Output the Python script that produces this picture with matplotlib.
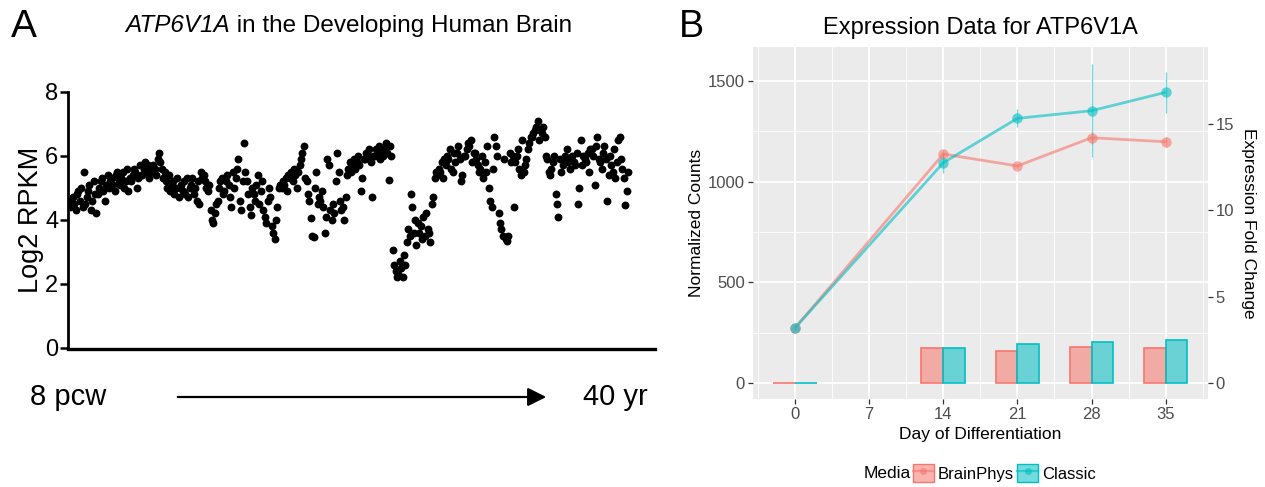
import numpy as np
import matplotlib
matplotlib.use('Agg')
import matplotlib.pyplot as plt
from matplotlib.patches import Patch, FancyArrowPatch
from matplotlib.lines import Line2D
from matplotlib.legend_handler import HandlerTuple

plt.rcParams['font.family'] = ['Liberation Sans', 'DejaVu Sans']

# ---------------- Panel A data: samples ordered by age (8 pcw -> 40 yr) ----------------
log2_rpkm = [
    4.4, 4.6, 4.7, 4.5, 4.3, 4.8, 4.9, 4.6, 5.0, 4.4, 5.5,
    4.5, 4.7, 4.9, 5.1, 4.3, 4.6, 5.2, 4.8, 4.2,
    4.8, 5.0, 5.2, 5.3, 4.9, 4.6, 5.1, 5.4,
    5.0, 5.2, 5.3, 5.1, 4.9, 5.4, 5.5, 5.2,
    5.1, 5.3, 5.5, 5.0, 5.2, 5.6, 4.9, 5.3,
    5.2, 5.4, 5.6, 5.5, 5.0, 5.3, 5.7, 5.4,
    5.4, 5.6, 5.8, 5.5, 5.7, 5.3, 5.6,
    5.5, 5.7, 5.6, 5.4, 5.9, 6.1, 5.8,
    5.6, 5.3, 5.5, 5.2, 5.0, 5.4,
    4.9, 5.1, 5.2, 4.8, 5.0, 5.3, 4.7,
    5.0, 5.1, 4.9, 5.2, 4.8, 5.3, 4.7, 5.0,
    5.1, 5.3, 4.8, 5.0, 4.6, 5.2, 4.5,
    5.5, 5.3, 5.4, 5.2, 5.0, 4.9, 5.1, 4.3, 4.0,
    3.9, 4.2, 4.5, 4.6, 5.0, 5.2, 5.3, 4.8,
    4.9, 5.2, 5.4, 5.1, 4.7, 4.4, 5.5,
    5.0, 5.3, 5.6, 5.9, 4.6, 4.3, 5.2,
    6.4, 5.5, 5.2, 4.8, 4.4, 4.15, 5.0,
    4.8, 4.6, 5.1, 5.4, 4.5, 4.9, 5.2,
    4.3, 4.1, 3.9, 4.6, 5.0, 4.7,
    3.8, 3.6, 3.4, 4.0, 4.4, 5.0, 5.1,
    5.0, 5.2, 5.1, 5.3, 4.9, 5.4,
    5.3, 5.5, 5.2, 5.6, 5.4, 5.0,
    5.5, 5.7, 5.9, 6.1, 6.3, 5.3,
    5.2, 4.8, 4.6, 4.05, 3.5, 3.45, 5.0, 5.5,
    4.5, 4.7, 4.6, 4.9, 4.4, 3.6, 4.1,
    5.9, 5.7, 4.3, 4.0, 4.5, 4.2, 5.2,
    6.1, 5.5, 4.6, 4.3, 4.4, 4.0, 4.7,
    5.4, 5.6, 5.8, 5.5, 5.7, 5.9,
    5.6, 5.8, 6.0, 5.7, 4.9, 5.3, 5.9,
    5.9, 6.1, 6.0, 6.2, 5.8, 4.7, 6.0,
    6.0, 6.2, 6.1, 6.3, 5.9, 6.1, 6.0,
    6.2, 6.4, 6.1, 5.25, 6.3, 6.0,
    3.05, 2.6, 2.4, 2.2, 2.3, 2.7, 2.5, 2.2, 2.9, 2.6,
    3.3, 3.7, 3.5, 4.8, 4.4, 3.6, 4.0, 3.2,
    3.9, 3.6, 3.8, 3.4, 4.1, 3.5, 4.2, 3.7,
    3.6, 3.3, 4.5, 4.7, 5.3, 5.5,
    5.4, 5.6, 5.5, 5.8, 5.3, 5.9,
    5.7, 6.0, 5.9, 6.2, 5.6, 5.5, 6.1,
    5.8, 6.1, 6.3, 5.9, 5.2, 5.4, 6.0,
    6.0, 6.2, 6.4, 6.3, 6.5, 5.8, 6.1,
    6.1, 5.9, 5.7, 5.5, 5.6, 6.0, 5.3,
    5.8, 5.5, 6.3, 5.0, 4.6, 4.4, 5.6,
    6.6, 6.3, 6.0, 4.2, 3.9, 3.7, 3.5, 5.9,
    3.4, 3.35, 3.5, 6.1, 5.8, 6.0, 4.4,
    5.8, 6.0, 6.2, 5.6, 5.4, 6.5,
    5.5, 5.7, 5.9, 6.2, 6.4, 6.6,
    6.6, 6.7, 6.8, 6.9, 7.1, 6.5, 6.8,
    6.7, 6.9, 6.6, 6.0, 5.9, 5.5,
    5.4, 5.6, 5.8, 6.0, 4.8, 4.5, 4.1, 5.9,
    5.5, 5.7, 5.9, 6.0, 6.2, 5.8, 5.6,
    5.9, 6.0, 5.8, 5.7, 6.1, 4.5, 5.0, 6.5,
    5.7, 6.0, 5.9, 5.8, 6.1, 5.5, 6.2,
    6.2, 6.0, 5.1, 6.3, 6.6, 5.9,
    5.8, 5.6, 6.1, 6.3, 5.9, 4.6, 5.4,
    6.0, 5.7, 5.5, 6.2, 5.3, 5.8, 6.5,
    6.6, 5.9, 5.6, 5.3, 4.45, 4.9, 5.5,
]
rpkm_ticks = [0, 2, 4, 6, 8]

# ---------------- Panel B data ----------------
days = [0, 14, 21, 28, 35]
day_ticks = [0, 7, 14, 21, 28, 35]
media = ['BrainPhys', 'Classic']
counts_brainphys = [275, 1137, 1078, 1218, 1198]
counts_classic = [275, 1094, 1314, 1352, 1443]
err_brainphys = [10, 18, 12, 30, 25]
err_classic = [10, 50, 45, 231, 100]
fold_brainphys = [0.0, 2.02, 1.87, 2.12, 2.02]
fold_classic = [0.0, 2.02, 2.25, 2.37, 2.50]
count_ticks = [0, 500, 1000, 1500]
fold_ticks = [0, 5, 10, 15]
FOLD_SCALE = 85.8  # counts per fold-change unit on the secondary axis

C_BP = '#F8766D'
C_CL = '#00BFC4'

W, H = 1265, 487
fig = plt.figure(figsize=(W / 100, H / 100), dpi=100)

def fx(px):
    return px / W

def fy(py):
    return 1 - py / H

# ================= Panel A =================
axA = fig.add_axes([fx(68), fy(349), fx(655) - fx(68), fy(91.7) - fy(349)])
n = len(log2_rpkm)
xs = np.arange(n)
step = 558 / (n - 1)
axA.set_xlim(-2 / step, (n - 1) + 27 / step)
axA.set_ylim(-0.04, 8)
axA.scatter(xs, log2_rpkm, s=32, color='black', linewidths=0, zorder=3)
for s in ['top', 'right']:
    axA.spines[s].set_visible(False)
axA.spines['left'].set_linewidth(2.0)
axA.spines['bottom'].set_linewidth(2.4)
axA.spines['left'].set_bounds(0, 8)
axA.set_xticks([])
axA.set_yticks(rpkm_ticks)
axA.tick_params(axis='y', length=6, width=1.8, labelsize=17, pad=1)
axA.set_ylabel('Log2 RPKM', fontsize=19.5, labelpad=1)

fig.text(fx(11), fy(27), 'A', fontsize=28, va='center', ha='left')
t1 = fig.text(fx(125), fy(26), 'ATP6V1A', fontsize=17.5, style='italic', va='center', ha='left')
fig.canvas.draw()
bb = t1.get_window_extent()
fig.text(bb.x1 / W, fy(26), ' in the Developing Human Brain', fontsize=17.5, va='center', ha='left')

fig.text(fx(30), fy(397), '8 pcw', fontsize=21, va='center', ha='left')
fig.text(fx(583), fy(397), '40 yr', fontsize=21, va='center', ha='left')
arrow = FancyArrowPatch((fx(175), fy(397)), (fx(549), fy(397)), transform=fig.transFigure,
                        arrowstyle='-|>,head_length=7,head_width=3.5', lw=1.6, color='black',
                        mutation_scale=1.6)
fig.add_artist(arrow)

# ================= Panel B =================
axB = fig.add_axes([fx(752.7), fy(399.3), fx(1208) - fx(752.7), fy(46.7) - fy(399.3)])
axB.set_facecolor('#EBEBEB')
for s in axB.spines.values():
    s.set_visible(False)
axB.set_xlim(-4.0, 39.0)
axB.set_ylim(-79.5, 1669.5)
axB.set_xticks(day_ticks)
axB.set_xticks([3.5, 10.5, 17.5, 24.5, 31.5, 38.5, -3.5], minor=True)
axB.set_yticks(count_ticks)
axB.set_yticks([250, 750, 1250], minor=True)
axB.grid(which='major', color='white', lw=1.3)
axB.grid(which='minor', color='white', lw=0.6)
axB.set_axisbelow(True)
axB.tick_params(which='major', length=3.5, width=0.9, color='#333333', labelsize=12,
                labelcolor='#4D4D4D', pad=2)
axB.tick_params(which='minor', length=0)

bw = 2.06
d = np.array(days, dtype=float)
axB.bar(d - bw / 2, np.array(fold_brainphys) * FOLD_SCALE, width=bw, color=C_BP, alpha=0.55,
        edgecolor='none', zorder=2)
axB.bar(d - bw / 2, np.array(fold_brainphys) * FOLD_SCALE, width=bw, facecolor='none',
        edgecolor=C_BP, lw=1.2, zorder=2.1)
axB.bar(d + bw / 2, np.array(fold_classic) * FOLD_SCALE, width=bw, color=C_CL, alpha=0.55,
        edgecolor='none', zorder=2)
axB.bar(d + bw / 2, np.array(fold_classic) * FOLD_SCALE, width=bw, facecolor='none',
        edgecolor=C_CL, lw=1.2, zorder=2.1)

for cnt, err, col in [(counts_brainphys, err_brainphys, C_BP), (counts_classic, err_classic, C_CL)]:
    axB.errorbar(days, cnt, yerr=err, fmt='none', ecolor=col, elinewidth=1.0, alpha=0.55,
                 capsize=0, zorder=3)
    axB.plot(days, cnt, color=col, lw=2.0, alpha=0.6, zorder=4, solid_capstyle='butt')
    axB.plot(days, cnt, 'o', color=col, ms=7.5, alpha=0.6, markeredgewidth=0, zorder=5)

axB.set_ylabel('Normalized Counts', fontsize=12.5, labelpad=3)
axB.set_xlabel('Day of Differentiation', fontsize=12.5, labelpad=4)
axB.set_title('Expression Data for ATP6V1A', fontsize=17, pad=9)

sec = axB.secondary_yaxis('right', functions=(lambda c: c / FOLD_SCALE, lambda f: f * FOLD_SCALE))
sec.set_yticks(fold_ticks)
for s in sec.spines.values():
    s.set_visible(False)
sec.tick_params(length=3.5, width=0.9, color='#333333', labelsize=12, labelcolor='#4D4D4D', pad=2)
sec.set_ylabel('Expression Fold Change', fontsize=12.5, rotation=270, labelpad=16)

fig.text(fx(679), fy(27), 'B', fontsize=27, va='center', ha='left')

# legend
handles = []
for col in [C_BP, C_CL]:
    p = Patch(facecolor=col, alpha=0.55, edgecolor='none')
    pe = Patch(facecolor='none', edgecolor=col, lw=1.0)
    ln = Line2D([], [], color=col, lw=1.6, alpha=0.6, marker='o', ms=5, markeredgewidth=0)
    handles.append((p, pe, ln))
fig.text(fx(864), fy(473), 'Media', fontsize=12.5, va='center', ha='left')
leg = fig.legend(handles, media, handler_map={tuple: HandlerTuple(ndivide=1, pad=0)},
                 loc='center left', bbox_to_anchor=(fx(913), fy(473)), ncol=2, frameon=False,
                 fontsize=12, handlelength=1.25, handleheight=1.25, handletextpad=0.25,
                 columnspacing=0.2, borderpad=0, borderaxespad=0)

fig.savefig('out.png', dpi=100)
